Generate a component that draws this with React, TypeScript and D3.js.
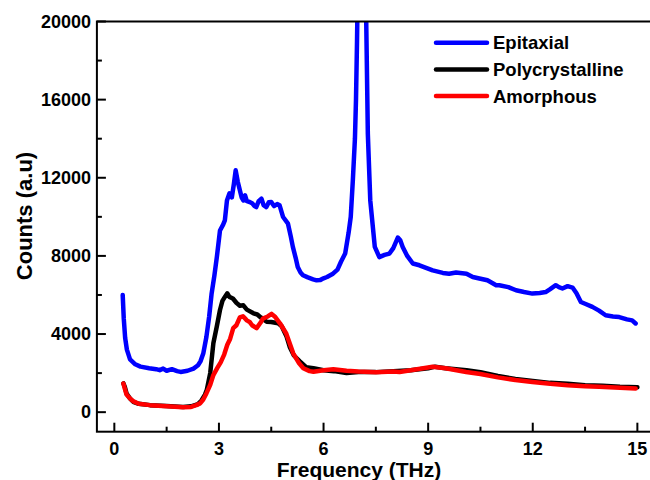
import React from "react";
import * as d3 from "d3";

// spectra: [frequency (THz), counts]
const epitaxial: [number, number][] = [
  [0.24, 6000], [0.27, 4800], [0.31, 3800], [0.36, 3200], [0.45, 2700], [0.6, 2450],
  [0.75, 2330], [1.0, 2250], [1.2, 2200], [1.3, 2150], [1.4, 2230], [1.5, 2120],
  [1.65, 2200], [1.8, 2100], [1.9, 2060], [2.1, 2120], [2.27, 2230], [2.4, 2400],
  [2.47, 2600], [2.55, 3000], [2.64, 3850], [2.72, 4900], [2.79, 6070], [2.87, 7000],
  [2.94, 7940], [3.03, 9300], [3.12, 9600], [3.17, 9820], [3.23, 10840], [3.3, 11200],
  [3.37, 11000], [3.43, 11700], [3.48, 12380], [3.54, 11800], [3.6, 11360], [3.65, 11000],
  [3.7, 10840], [3.75, 11100], [3.8, 10800], [3.88, 10760], [3.95, 10700], [4.02, 10550],
  [4.07, 10500], [4.14, 10800], [4.22, 10930], [4.28, 10600], [4.36, 10500], [4.43, 10750],
  [4.5, 10760], [4.58, 10550], [4.67, 10650], [4.74, 10590], [4.84, 9990], [4.98, 9650],
  [5.06, 9000], [5.12, 8460], [5.2, 7900], [5.26, 7430], [5.34, 7150], [5.41, 7010],
  [5.55, 6900], [5.7, 6800], [5.8, 6750], [5.9, 6760], [6.0, 6850], [6.1, 6920],
  [6.27, 7090], [6.4, 7300], [6.5, 7700], [6.62, 8120], [6.72, 9200], [6.78, 10000],
  [6.84, 11870], [6.9, 14000], [6.93, 15960], [6.96, 19000], [7.03, 28000], [7.09, 35000],
  [7.16, 28000], [7.22, 20500], [7.27, 14260], [7.34, 10840], [7.47, 8460], [7.6, 7940],
  [7.75, 8050], [7.89, 8120], [8.0, 8400], [8.13, 8940], [8.2, 8800], [8.27, 8460],
  [8.4, 8000], [8.56, 7610], [8.75, 7520], [9.13, 7260], [9.42, 7130], [9.6, 7090],
  [9.8, 7150], [10.1, 7090], [10.28, 6920], [10.47, 6840], [10.7, 6750], [10.95, 6500],
  [11.04, 6500], [11.3, 6400], [11.52, 6240], [11.75, 6150], [11.99, 6070], [12.2, 6100],
  [12.37, 6150], [12.5, 6300], [12.66, 6500], [12.75, 6400], [12.85, 6330], [13.0, 6450],
  [13.14, 6380], [13.25, 6100], [13.38, 5640], [13.5, 5550], [13.71, 5390], [13.9, 5200],
  [14.09, 4960], [14.3, 4900], [14.48, 4870], [14.7, 4750], [14.85, 4700], [14.95, 4540],
];

const polycrystalline: [number, number][] = [
  [0.26, 1470], [0.3, 1300], [0.35, 960], [0.45, 700], [0.54, 530], [0.7, 430],
  [1.02, 360], [1.5, 310], [1.97, 270], [2.2, 300], [2.4, 410], [2.5, 600],
  [2.6, 900], [2.65, 1130], [2.75, 2000], [2.84, 3530], [2.94, 4400], [3.03, 5230],
  [3.1, 5700], [3.17, 5900], [3.24, 6087], [3.3, 5900], [3.4, 5820], [3.5, 5600],
  [3.6, 5450], [3.7, 5470], [3.8, 5250], [3.99, 5060], [4.1, 5000], [4.2, 4850],
  [4.37, 4630], [4.5, 4620], [4.7, 4550], [4.8, 4400], [4.94, 3870], [5.03, 3340],
  [5.15, 2900], [5.32, 2600], [5.5, 2300], [5.71, 2250], [6.0, 2150], [6.3, 2100],
  [6.66, 2000], [7.0, 2050], [7.5, 2050], [8.0, 2100], [8.5, 2150], [9.0, 2250],
  [9.2, 2330], [9.5, 2250], [10.1, 2150], [10.5, 2050], [11.0, 1850], [11.5, 1700],
  [12.0, 1600], [12.5, 1500], [13.0, 1450], [13.5, 1380], [14.0, 1350], [14.5, 1300],
  [15.0, 1280],
];

const amorphous: [number, number][] = [
  [0.26, 1470], [0.3, 1200], [0.35, 900], [0.45, 700], [0.55, 550], [0.7, 430],
  [1.02, 360], [1.5, 300], [1.97, 250], [2.2, 270], [2.35, 360], [2.46, 450],
  [2.55, 650], [2.64, 960], [2.75, 1400], [2.84, 1900], [2.95, 2250], [3.05, 2550],
  [3.15, 2950], [3.24, 3450], [3.32, 3750], [3.41, 4300], [3.5, 4450], [3.6, 4850],
  [3.69, 4910], [3.8, 4700], [3.88, 4620], [3.95, 4450], [4.08, 4300], [4.2, 4600],
  [4.26, 4790], [4.4, 4900], [4.51, 5030], [4.6, 4900], [4.75, 4550], [4.93, 4030],
  [5.13, 3015], [5.3, 2500], [5.42, 2250], [5.6, 2100], [5.71, 2070], [6.0, 2150],
  [6.28, 2195], [6.66, 2125], [7.0, 2080], [7.5, 2040], [8.0, 2080], [8.18, 2060],
  [8.5, 2150], [9.13, 2320], [9.5, 2250], [10.09, 2060], [10.5, 1950], [11.0, 1780],
  [11.5, 1650], [11.99, 1550], [12.5, 1450], [13.0, 1380], [13.5, 1330], [13.9, 1300],
  [14.5, 1250], [14.95, 1210],
];

const seriesNames = ["Epitaxial", "Polycrystalline", "Amorphous"];
const seriesColors = ["#0000ff", "#000000", "#ff0000"];
const xTicks = [0, 3, 6, 9, 12, 15];
const xMinor = [1.5, 4.5, 7.5, 10.5, 13.5];
const yTicks = [0, 4000, 8000, 12000, 16000, 20000];
const yMinor = [2000, 6000, 10000, 14000, 18000];

const font = "'Liberation Sans', Arial, sans-serif";

export default function App() {
  const x = d3.scaleLinear().domain([-0.5, 15.5]).range([96.9, 654.8]);
  const y = d3.scaleLinear().domain([-1000, 20000]).range([431.7, 21.5]);
  const line = d3.line<[number, number]>().x(d => x(d[0])).y(d => y(d[1]));
  const data = [epitaxial, polycrystalline, amorphous];
  const [x0, x1] = x.range();
  const [y0, y1] = y.range();

  return (
    <svg width={650} height={480} style={{ position: "absolute", left: 0, top: 0 }} fontFamily={font} fontWeight="bold">
      <defs>
        <clipPath id="plot">
          <rect x={x0} y={y1} width={x1 - x0} height={y0 - y1} />
        </clipPath>
      </defs>
      <g clipPath="url(#plot)">
        {data.map((d, i) => (
          <path key={i} d={line(d) ?? ""} fill="none" stroke={seriesColors[i]} strokeWidth={4.5}
            strokeLinejoin="round" strokeLinecap="round" />
        ))}
      </g>
      <rect x={x0} y={y1} width={x1 - x0} height={y0 - y1} fill="none" stroke="#000" strokeWidth={2} />
      {xTicks.map(t => (
        <g key={t}>
          <line x1={x(t)} x2={x(t)} y1={y0} y2={y0 - 9} stroke="#000" strokeWidth={2} />
          <text x={x(t)} y={455} textAnchor="middle" fontSize={18}>{t}</text>
        </g>
      ))}
      {xMinor.map(t => (
        <line key={t} x1={x(t)} x2={x(t)} y1={y0} y2={y0 - 5} stroke="#000" strokeWidth={2} />
      ))}
      {yTicks.map(t => (
        <g key={t}>
          <line x1={x0} x2={x0 + 9} y1={y(t)} y2={y(t)} stroke="#000" strokeWidth={2} />
          <text x={91} y={y(t)} dy="0.35em" textAnchor="end" fontSize={18}>{t}</text>
        </g>
      ))}
      {yMinor.map(t => (
        <line key={t} x1={x0} x2={x0 + 5} y1={y(t)} y2={y(t)} stroke="#000" strokeWidth={2} />
      ))}
      <text x={359} y={477} textAnchor="middle" fontSize={21}>Frequency (THz)</text>
      <text transform="translate(32,216) rotate(-90)" textAnchor="middle" fontSize={22}>Counts (a.u)</text>
      {seriesNames.map((name, i) => (
        <g key={name} transform={`translate(0,${42.7 + i * 26.7})`}>
          <line x1={436} x2={487} y1={0} y2={0} stroke={seriesColors[i]} strokeWidth={4.5} strokeLinecap="round" />
          <text x={493} y={6.6} fontSize={18.5}>{name}</text>
        </g>
      ))}
    </svg>
  );
}
